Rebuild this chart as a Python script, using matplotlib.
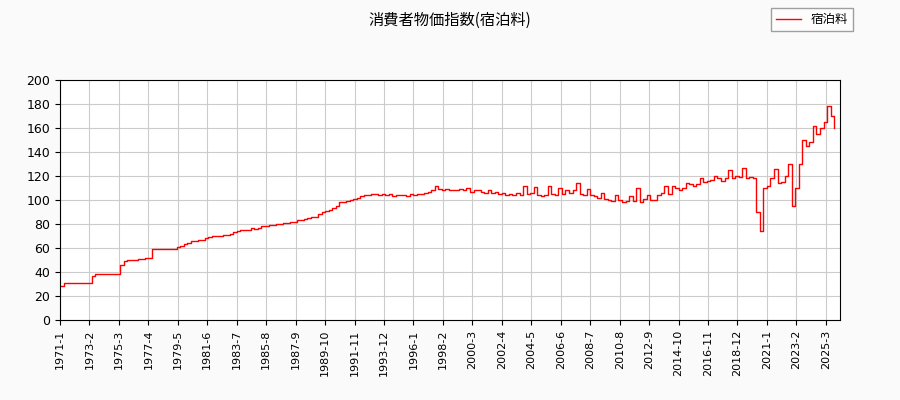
import numpy as np
import matplotlib.pyplot as plt

plt.rcParams['font.family'] = ['Noto Sans CJK JP', 'DejaVu Sans']

# quarterly values, 1971Q1 .. 2025Q4
values = [
    28, 31, 31, 31,  31, 31, 31, 31,  31, 37, 38, 38,  38, 38, 38, 38,
    38, 46, 49, 50,  50, 50, 51, 51,  52, 52, 59, 59,  59, 59, 59, 59,
    59, 61, 62, 63,  64, 66, 66, 67,  67, 68, 69, 70,  70, 70, 71, 71,
    72, 73, 74, 75,  75, 75, 77, 76,  77, 78, 78, 79,  79, 80, 80, 81,
    81, 82, 82, 83,  83, 84, 85, 86,  86, 88, 90, 91,  92, 93, 95, 98,
    98, 99, 100, 101,  102, 103, 104, 104,  105, 105, 104, 105,  104, 105, 103, 104,
    104, 104, 103, 105,  104, 105, 105, 106,  107, 108, 112, 109,  108, 109, 108, 108,
    108, 109, 108, 110,  107, 108, 108, 107,  106, 108, 106, 107,  105, 106, 104, 105,
    104, 106, 104, 112,  105, 106, 111, 104,  103, 104, 112, 105,  104, 110, 105, 108,
    106, 108, 114, 105,  104, 109, 104, 103,  102, 106, 101, 100,  99, 104, 100, 98,
    99, 103, 99, 110,  98, 101, 104, 100,  100, 104, 106, 112,  105, 112, 110, 108,
    110, 114, 113, 112,  113, 118, 115, 116,  117, 120, 118, 116,  118, 125, 118, 120,
    119, 127, 118, 119,  118, 90, 74, 110,  112, 118, 126, 114,  115, 120, 130, 95,
    110, 130, 150, 145,  148, 162, 155, 160,  165, 178, 170, 160,
]
tick_labels = ['1971-1', '1973-2', '1975-3', '1977-4', '1979-5', '1981-6', '1983-7',
               '1985-8', '1987-9', '1989-10', '1991-11', '1993-12', '1996-1', '1998-2',
               '2000-3', '2002-4', '2004-5', '2006-6', '2008-7', '2010-8', '2012-9',
               '2014-10', '2016-11', '2018-12', '2021-1', '2023-2', '2025-3']

months = np.arange(len(values)) * 3

fig = plt.figure(figsize=(9, 4), dpi=100, facecolor='#fafafa')
ax = fig.add_axes([60/900, 80/400, 780/900, 240/400])
ax.set_facecolor('white')
ax.plot(months, values, color='red', lw=1, drawstyle='steps-post', label='宿泊料')
ax.set_xlim(0, 662)
ax.set_ylim(0, 200)
ax.set_yticks(range(0, 201, 20))
ax.set_xticks(np.arange(len(tick_labels)) * 25)
ax.set_xticklabels(tick_labels, rotation=90, fontsize=8, family='DejaVu Sans')
for lab in ax.get_yticklabels():
    lab.set_family('DejaVu Sans')
ax.tick_params(axis='y', labelsize=9)
ax.grid(color='#cccccc', lw=0.8)
ax.set_axisbelow(True)
fig.suptitle('消費者物価指数(宿泊料)', y=0.97, fontsize=11)
fig.legend(loc='upper right', bbox_to_anchor=(0.955, 0.995), fontsize=9,
           fancybox=False, edgecolor='#888888')
fig.savefig('out.png', facecolor=fig.get_facecolor())
